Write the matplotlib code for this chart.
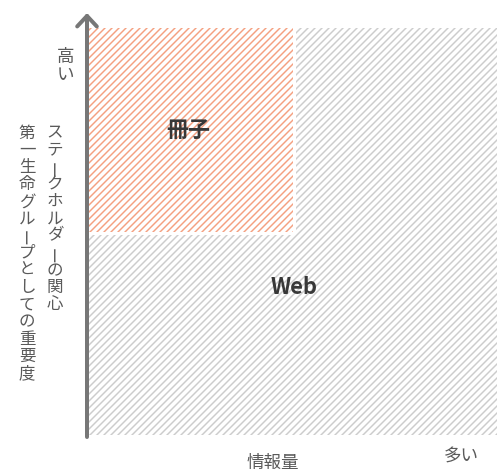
import matplotlib
matplotlib.use("Agg")
import matplotlib.pyplot as plt
from matplotlib.patches import Rectangle

plt.rcParams['font.family'] = ['Noto Sans CJK JP', 'DejaVu Sans']
plt.rcParams['hatch.linewidth'] = 1.25

# quadrants (axes: 情報量 0..1, 重要度 0..1)
segments = ["Web", "冊子"]
x_start = [0.0, 0.0]
x_end = [1.0, 0.5]
y_start = [0.0, 0.5]
y_end = [1.0, 1.0]
colors = ["#cccccc", "#f4a080"]
label_pos = [(0.505, 0.362), (0.245, 0.748)]

x_label = "情報量"
x_high = "多い"
y_high = "高い"
y_label_cols = ["ステークホルダーの関心", "第一生命グループとしての重要度"]

DPI = 84
W, H = 500, 475


def px2pt(px):
    return px * 72 / DPI


fig = plt.figure(figsize=(W / DPI, H / DPI), dpi=DPI)

# main plot area (in figure pixels: x 88..497, y 28..435 from top)
ax = fig.add_axes([88 / W, (H - 435) / H, (497 - 88) / W, (435 - 28) / H])
ax.set_xlim(0, 1)
ax.set_ylim(0, 1)
ax.axis("off")

for i, name in enumerate(segments):
    x0, x1 = x_start[i], x_end[i]
    y0, y1 = y_start[i], y_end[i]
    if i > 0:
        # white gap around the inner quadrant
        ax.add_patch(Rectangle((x0, y0), x1 - x0, y1 - y0, facecolor="white",
                               edgecolor="white", linewidth=px2pt(6), zorder=i * 2))
    ax.add_patch(Rectangle((x0, y0), x1 - x0, y1 - y0, facecolor="none",
                           edgecolor=colors[i], hatch="////", linewidth=0,
                           zorder=i * 2 + 1))
    lx, ly = label_pos[i]
    ax.text(lx, ly, name, ha="center", va="center", fontsize=px2pt(22),
            fontweight="bold", color="#383838", zorder=10)

# overlay in pixel coords for axis arrows and labels
ov = fig.add_axes([0, 0, 1, 1], facecolor="none")
ov.set_xlim(0, W)
ov.set_ylim(H, 0)
ov.axis("off")

arrow = dict(arrowstyle="->,head_length=0.45,head_width=0.42", lw=px2pt(4),
             color="#777777", shrinkA=0, shrinkB=0, mutation_scale=20)
ov.annotate("", xy=(87, 13), xytext=(87, 437), arrowprops=arrow)
ov.annotate("", xy=(503, 435.5), xytext=(85, 435.5), arrowprops=arrow)


def vtext(x, y_first, s, size_px, step):
    for k, ch in enumerate(s):
        rot = 90 if ch == "ー" else 0
        ov.text(x, y_first + k * step, ch, ha="center", va="center",
                fontsize=px2pt(size_px), color="#5a5a5a", rotation=rot)


vtext(66, 57, y_high, 17.5, 17.5)
vtext(55, 133, y_label_cols[0], 16.5, 17.2)
vtext(27, 133, y_label_cols[1], 16.5, 17.2)

ov.text(273, 463, x_label, ha="center", va="center", fontsize=px2pt(17.5),
        color="#5a5a5a")
ov.text(461, 457, x_high, ha="center", va="center", fontsize=px2pt(17.5),
        color="#5a5a5a")

fig.savefig("out.png", dpi=DPI)
